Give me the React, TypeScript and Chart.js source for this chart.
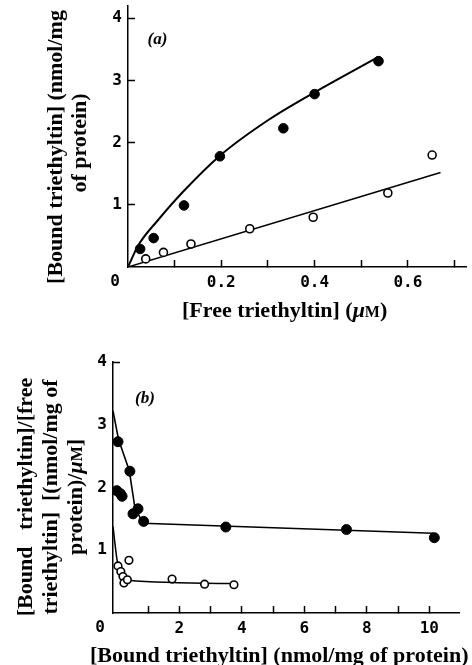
import React, { useEffect, useRef } from 'react';
import { Chart, registerables } from 'chart.js';

Chart.register(...registerables);

/* ---------------- Panel (a): bound vs free triethyltin ---------------- */
const freeFilledA = [0.026, 0.055, 0.12, 0.197, 0.333, 0.4, 0.537];
const boundFilledA = [0.29, 0.465, 0.99, 1.78, 2.23, 2.78, 3.31];
const freeOpenA = [0.038, 0.076, 0.135, 0.261, 0.397, 0.557, 0.652];
const boundOpenA = [0.13, 0.235, 0.37, 0.615, 0.8, 1.19, 1.8];
const curveFreeA = [0, 0.023, 0.065, 0.118, 0.197, 0.3, 0.4, 0.537];
const curveBoundA = [0, 0.36, 0.76, 1.21, 1.79, 2.36, 2.81, 3.38];
const lineFreeA = [0, 0.67];
const lineBoundA = [0, 1.52];
const xTicksA = [0.1, 0.2, 0.3, 0.4, 0.5, 0.6, 0.7];
const xTickLabelsA = ['', '0.2', '', '0.4', '', '0.6', ''];
const yTicksA = [1, 2, 3, 4];
const yTickLabelsA = ['1', '2', '3', '4'];
const yTickMarksA = [true, true, true, true];

/* ---------------- Panel (b): Scatchard plot ---------------- */
const boundFilledB = [0.04, 0.42, 0.0, 0.12, 0.17, 0.52, 0.68, 0.86, 3.49, 7.35, 10.16];
const ratioFilledB = [2.73, 2.26, 1.95, 1.9, 1.86, 1.58, 1.66, 1.46, 1.37, 1.33, 1.2];
const boundOpenB = [0.04, 0.13, 0.2, 0.23, 0.34, 0.39, 1.77, 2.81, 3.75];
const ratioOpenB = [0.75, 0.66, 0.58, 0.48, 0.53, 0.84, 0.54, 0.46, 0.45];
const lineBoundFilledB = [-0.12, 0.06, 0.4, 0.58, 0.84, 10.12];
const lineRatioFilledB = [3.22, 2.76, 2.27, 1.68, 1.43, 1.27];
const lineBoundOpenB = [-0.12, 0.0, 0.1, 0.36, 3.78];
const lineRatioOpenB = [1.38, 0.88, 0.62, 0.52, 0.47];
const xTicksB = [1, 2, 3, 4, 5, 6, 7, 8, 9, 10];
const xTickLabelsB = ['', '2', '', '4', '', '6', '', '8', '', '10'];
const yTicksB = [1, 2, 3, 4];
const yTickLabelsB = ['1', '2', '3', '4'];
const yTickMarksB = [false, false, false, true];

/* ---------------- Text ---------------- */
const SERIF = '"Liberation Serif", "Times New Roman", serif';
const F_TITLE = `bold 22px ${SERIF}`;
const F_TITLE_IT = `italic bold 22px ${SERIF}`;
const F_TITLE_SC = `bold 16px ${SERIF}`;
const F_PANEL = `italic bold 17px ${SERIF}`;
const F_TICK = 'bold 16px "DejaVu Sans Mono", monospace';

type Seg = [string, string];

const panelLabelA = '(a)';
const panelLabelB = '(b)';
const originLabel = '0';
const xTitleA: Seg[] = [['[Free triethyltin] (', F_TITLE], ['μ', F_TITLE_IT], ['M', F_TITLE_SC], [')', F_TITLE]];
const yTitleA: Seg[][] = [[['[Bound triethyltin] (nmol/mg', F_TITLE]], [['of protein)', F_TITLE]]];
const xTitleB: Seg[] = [['[Bound triethyltin] (nmol/mg of protein)', F_TITLE]];
const yTitleB: Seg[][] = [
  [['[Bound   triethyltin]/[free', F_TITLE]],
  [['triethyltin]  [(nmol/mg of', F_TITLE]],
  [['protein)/', F_TITLE], ['μ', F_TITLE_IT], ['M', F_TITLE_SC], [']', F_TITLE]],
];

function segWidth(ctx: CanvasRenderingContext2D, segs: Seg[]) {
  let w = 0;
  segs.forEach(([t, f]) => {
    ctx.font = f;
    w += ctx.measureText(t).width;
  });
  return w;
}

function drawSegs(ctx: CanvasRenderingContext2D, segs: Seg[], x0: number, baseline: number) {
  let x = x0;
  ctx.textAlign = 'left';
  ctx.textBaseline = 'alphabetic';
  segs.forEach(([t, f]) => {
    ctx.font = f;
    ctx.fillText(t, x, baseline);
    x += ctx.measureText(t).width;
  });
}

interface PanelSpec {
  height: number;
  area: { left: number; top: number; right: number; bottom: number };
  xMin: number; xMax: number; yMin: number; yMax: number;
  filledX: number[]; filledY: number[]; filledR: number;
  openX: number[]; openY: number[]; openR: number;
  line1X: number[]; line1Y: number[]; line1W: number; line1Smooth: boolean;
  line2X: number[]; line2Y: number[]; line2W: number; line2Smooth: boolean;
  xTicks: number[]; xTickLabels: string[];
  yTicks: number[]; yTickLabels: string[]; yTickMarks: boolean[];
  label: string; labelX: number; labelY: number;
  xTitle: Seg[]; xTitleLeft: number; xTitleBaseline: number;
  yTitle: Seg[][]; yTitleCx: number[]; yTitleCy: number[];
}

const Y_SCALE_W = 40;
const X_SCALE_H = 30;

const fixedFit = (s: any) => {
  if (s.isHorizontal()) s.height = X_SCALE_H;
  else s.width = Y_SCALE_W;
  s.paddingLeft = 0;
  s.paddingRight = 0;
  s.paddingTop = 0;
  s.paddingBottom = 0;
};

function pts(xs: number[], ys: number[]) {
  return xs.map((x, i) => ({ x, y: ys[i] }));
}

function buildConfig(p: PanelSpec): any {
  const annot = {
    id: 'annot',
    afterDraw(chart: any) {
      const ctx: CanvasRenderingContext2D = chart.ctx;
      const { left, bottom } = chart.chartArea;
      const xs = chart.scales.x;
      const ys = chart.scales.y;
      ctx.save();
      ctx.fillStyle = '#000';
      // origin label
      ctx.font = F_TICK;
      ctx.textAlign = 'center';
      ctx.textBaseline = 'middle';
      ctx.fillText(originLabel, left - 13, bottom + 15);
      // panel label
      ctx.font = F_PANEL;
      ctx.fillText(p.label, xs.getPixelForValue(p.labelX), ys.getPixelForValue(p.labelY));
      // x title
      drawSegs(ctx, p.xTitle, p.xTitleLeft, p.xTitleBaseline);
      // y title lines (rotated)
      p.yTitle.forEach((segs, i) => {
        const w = segWidth(ctx, segs);
        ctx.save();
        ctx.translate(p.yTitleCx[i], p.yTitleCy[i]);
        ctx.rotate(-Math.PI / 2);
        drawSegs(ctx, segs, -w / 2, 0.25 * 22);
        ctx.restore();
      });
      ctx.restore();
    },
  };

  const tickFont = { family: '"DejaVu Sans Mono", monospace', size: 16, weight: 'bold' };

  return {
    type: 'scatter',
    data: {
      datasets: [
        {
          data: pts(p.openX, p.openY),
          showLine: false,
          pointRadius: p.openR,
          pointBackgroundColor: '#fff',
          pointBorderColor: '#000',
          pointBorderWidth: 1.6,
          order: 0,
        },
        {
          data: pts(p.filledX, p.filledY),
          showLine: false,
          pointRadius: p.filledR,
          pointBackgroundColor: '#000',
          pointBorderColor: '#000',
          pointBorderWidth: 1,
          order: 1,
        },
        {
          data: pts(p.line1X, p.line1Y),
          showLine: true,
          pointRadius: 0,
          borderColor: '#000',
          borderWidth: p.line1W,
          cubicInterpolationMode: p.line1Smooth ? 'monotone' : 'default',
          tension: 0,
          fill: false,
          order: 2,
        },
        {
          data: pts(p.line2X, p.line2Y),
          showLine: true,
          pointRadius: 0,
          borderColor: '#000',
          borderWidth: p.line2W,
          cubicInterpolationMode: p.line2Smooth ? 'monotone' : 'default',
          tension: 0,
          fill: false,
          order: 3,
        },
      ],
    },
    options: {
      responsive: false,
      maintainAspectRatio: false,
      animation: false,
      devicePixelRatio: 1,
      layout: {
        padding: {
          left: p.area.left - Y_SCALE_W,
          top: p.area.top,
          right: 472 - p.area.right,
          bottom: p.height - p.area.bottom - X_SCALE_H,
        },
      },
      plugins: { legend: { display: false }, tooltip: { enabled: false } },
      events: [],
      scales: {
        x: {
          type: 'linear',
          position: 'bottom',
          min: p.xMin,
          max: p.xMax,
          bounds: 'data',
          afterBuildTicks: (s: any) => {
            s.ticks = p.xTicks.map((v) => ({ value: v }));
          },
          afterFit: fixedFit,
          ticks: {
            autoSkip: false,
            maxRotation: 0,
            padding: 13,
            color: '#000',
            font: tickFont,
            callback: (_v: any, i: number) => p.xTickLabels[i],
          },
          grid: {
            display: true,
            drawOnChartArea: false,
            drawTicks: true,
            tickLength: -7,
            tickWidth: 1.5,
            tickColor: '#000',
          },
          border: { display: true, color: '#000', width: 1.5 },
        },
        y: {
          type: 'linear',
          position: 'left',
          min: p.yMin,
          max: p.yMax,
          bounds: 'data',
          afterBuildTicks: (s: any) => {
            s.ticks = p.yTicks.map((v) => ({ value: v }));
          },
          afterFit: fixedFit,
          ticks: {
            autoSkip: false,
            padding: 13,
            color: '#000',
            font: tickFont,
            callback: (_v: any, i: number) => p.yTickLabels[i],
          },
          grid: {
            display: true,
            drawOnChartArea: false,
            drawTicks: true,
            tickLength: -7,
            tickWidth: 1.5,
            tickColor: (c: any) => (p.yTickMarks[c.index] ? '#000' : 'rgba(0,0,0,0)'),
          },
          border: { display: true, color: '#000', width: 1.5 },
        },
      },
    },
    plugins: [annot],
  };
}

const specA: PanelSpec = {
  height: 330,
  area: { left: 128, top: 5, right: 468, bottom: 267 },
  xMin: 0, xMax: 0.725, yMin: 0, yMax: 4.2,
  filledX: freeFilledA, filledY: boundFilledA, filledR: 4.8,
  openX: freeOpenA, openY: boundOpenA, openR: 4,
  line1X: curveFreeA, line1Y: curveBoundA, line1W: 2, line1Smooth: true,
  line2X: lineFreeA, line2Y: lineBoundA, line2W: 1.5, line2Smooth: false,
  xTicks: xTicksA, xTickLabels: xTickLabelsA,
  yTicks: yTicksA, yTickLabels: yTickLabelsA, yTickMarks: yTickMarksA,
  label: panelLabelA, labelX: 0.063, labelY: 3.65,
  xTitle: xTitleA, xTitleLeft: 182, xTitleBaseline: 317,
  yTitle: yTitleA, yTitleCx: [56, 80], yTitleCy: [147, 143],
};

const specB: PanelSpec = {
  height: 335,
  area: { left: 113, top: 32, right: 459, bottom: 283 },
  xMin: -0.12, xMax: 10.95, yMin: 0, yMax: 4,
  filledX: boundFilledB, filledY: ratioFilledB, filledR: 5,
  openX: boundOpenB, openY: ratioOpenB, openR: 3.8,
  line1X: lineBoundFilledB, line1Y: lineRatioFilledB, line1W: 1.6, line1Smooth: false,
  line2X: lineBoundOpenB, line2Y: lineRatioOpenB, line2W: 1.5, line2Smooth: true,
  xTicks: xTicksB, xTickLabels: xTickLabelsB,
  yTicks: yTicksB, yTickLabels: yTickLabelsB, yTickMarks: yTickMarksB,
  label: panelLabelB, labelX: 0.9, labelY: 3.42,
  xTitle: xTitleB, xTitleLeft: 90, xTitleBaseline: 332,
  yTitle: yTitleB, yTitleCx: [26, 51, 76], yTitleCy: [167, 167, 167],
};

function Panel({ spec }: { spec: PanelSpec }) {
  const ref = useRef<HTMLCanvasElement>(null);
  useEffect(() => {
    if (!ref.current) return;
    const chart = new Chart(ref.current, buildConfig(spec));
    return () => chart.destroy();
  }, [spec]);
  return (
    <canvas
      ref={ref}
      width={472}
      height={spec.height}
      style={{ display: 'block', width: 472, height: spec.height }}
    />
  );
}

export default function App() {
  return (
    <div style={{ position: 'absolute', left: 0, top: 0, width: 472, height: 665, background: '#fff', overflow: 'hidden' }}>
      <Panel spec={specA} />
      <Panel spec={specB} />
    </div>
  );
}
